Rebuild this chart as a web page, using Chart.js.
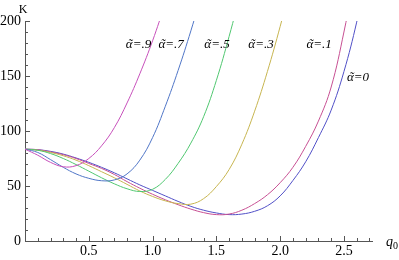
<!DOCTYPE html>
<html>
<head>
<meta charset="utf-8">
<script src="https://cdn.jsdelivr.net/npm/chart.js@4.4.1/dist/chart.umd.min.js"></script>
<style>
  html, body { margin: 0; padding: 0; background: #fff; }
  #wrap { width: 399px; height: 260px; }
</style>
</head>
<body>
<div id="wrap"><canvas id="myChart"></canvas></div>
<script>
// q0 grid shared by all curves
var qGrid = [0, 0.1, 0.2, 0.3, 0.4, 0.5, 0.6, 0.7, 0.8, 0.9, 1.0, 1.1, 1.2, 1.3,
             1.4, 1.5, 1.6, 1.7, 1.8, 1.9, 2.0, 2.1, 2.2, 2.3, 2.4, 2.5, 2.6, 2.7];

// K values, one array per alpha
var k09 = [83.5, 78, 71.5, 67.5, 68.5, 75, 86.5, 103, 125.5, 152, 182, 216];
var k07 = [83.5, 80.5, 74, 67, 61, 57, 54.8, 55.5, 61, 73.5, 94, 122.5, 155, 191, 230];
var k05 = [83.5, 82.5, 79.5, 75, 69.5, 63.5, 57.5, 52, 47.5, 45, 47, 56, 70.5, 89, 113, 146, 186, 230];
var k03 = [83.5, 82.5, 80.5, 77.5, 73.5, 68.5, 63, 57.5, 51.5, 45.5, 40.5, 36.5, 34, 33.5, 38.5, 49.5,
           65, 88, 118, 154, 195, 240];
var k01 = [83.5, 83, 81, 78.5, 75, 70.5, 66, 60.5, 54, 48, 42.5, 37.5, 33, 29, 25.8, 24, 24.5, 28,
           34, 42, 53, 67, 86, 109, 140, 190, 250];
var k00 = [83.5, 83, 81.5, 79, 75.5, 71.5, 67, 62, 56.5, 51, 46, 41, 36, 31.5, 28, 25.5, 24, 24.5,
           27, 32, 41, 55, 72, 94, 119, 154, 199, 254];

var yTicks = [0, 50, 100, 150, 200];
var xTicks = [0.5, 1.0, 1.5, 2.0, 2.5];

// curve labels: value part after "α̃", q0, K
var curveLabels = [
    ['=.9', 0.89, 179],
    ['=.7', 1.145, 179],
    ['=.5', 1.505, 179],
    ['=.3', 1.85, 179],
    ['=.1', 2.305, 179],
    ['=0', 2.61, 149]
];

var colors = ['rgb(199,80,187)', 'rgb(80,118,199)', 'rgb(80,199,112)',
              'rgb(199,181,80)', 'rgb(199,80,147)', 'rgb(81,80,199)'];
var series = [k09, k07, k05, k03, k01, k00];

function toPoints(arr) {
    return arr.map(function(v, i) { return {x: qGrid[i], y: v}; });
}

var serif = '"Liberation Serif"';

var decorPlugin = {
    id: 'decor',
    afterDraw: function(chart) {
        var ctx = chart.ctx;
        var xs = chart.scales.x, ys = chart.scales.y;
        var x0 = xs.getPixelForValue(0), y0 = ys.getPixelForValue(0);
        ctx.save();
        ctx.strokeStyle = '#555';
        ctx.lineWidth = 1;
        ctx.beginPath();
        // inward ticks on x
        for (var i = 1; i <= 27; i++) {
            var px = Math.round(xs.getPixelForValue(i / 10)) + 0.5;
            var len = (i % 5 === 0) ? 5 : 3;
            ctx.moveTo(px, y0);
            ctx.lineTo(px, y0 - len);
        }
        // inward ticks on y
        for (var j = 1; j <= 20; j++) {
            var py = Math.round(ys.getPixelForValue(j * 10)) + 0.5;
            var l2 = (j % 5 === 0) ? 5 : 3;
            ctx.moveTo(x0, py);
            ctx.lineTo(x0 + l2, py);
        }
        ctx.stroke();

        ctx.fillStyle = '#000';
        ctx.textBaseline = 'alphabetic';
        ctx.font = '12px ' + serif;
        ctx.textAlign = 'center';
        ctx.fillText('K', 23, 13);

        ctx.textAlign = 'left';
        ctx.font = 'italic 14px ' + serif;
        ctx.fillText('q', 386, 246);
        ctx.font = '10px ' + serif;
        ctx.fillText('0', 393, 249);

        // alpha-tilde labels
        ctx.font = 'italic 13px ' + serif;
        ctx.textAlign = 'left';
        curveLabels.forEach(function(lb) {
            var wa = ctx.measureText('α').width;
            var wr = ctx.measureText(lb[0]).width;
            var cx = xs.getPixelForValue(lb[1]);
            var base = ys.getPixelForValue(lb[2]) + 4;
            var sx = cx - (wa + wr) / 2;
            ctx.fillText('α', sx, base);
            ctx.textAlign = 'center';
            ctx.fillText('˜', sx + wa / 2 + 1, base);
            ctx.textAlign = 'left';
            ctx.fillText(lb[0], sx + wa, base);
        });
        ctx.restore();
    }
};

var ctx = document.getElementById('myChart');
var myChart = new Chart(ctx, {
    type: 'line',
    data: {
        datasets: series.map(function(s, i) {
            return {
                data: toPoints(s),
                borderColor: colors[i],
                borderWidth: 1,
                pointRadius: 0,
                fill: false,
                tension: 0.4
            };
        })
    },
    options: {
        responsive: true,
        maintainAspectRatio: false,
        animation: false,
        layout: { padding: { top: 21, right: 27, left: 0, bottom: 0 } },
        plugins: { legend: { display: false }, tooltip: { enabled: false } },
        scales: {
            x: {
                type: 'linear',
                min: 0,
                max: 2.72,
                afterFit: function(scale) { scale.height = 19; },
                grid: { display: false, drawTicks: false },
                border: { display: true, color: '#555', width: 1 },
                afterBuildTicks: function(scale) {
                    scale.ticks = xTicks.map(function(v) { return {value: v}; });
                },
                ticks: {
                    padding: 2,
                    maxRotation: 0,
                    color: '#000',
                    font: { family: serif, size: 14 },
                    callback: function(v) { return v.toFixed(1); }
                }
            },
            y: {
                min: 0,
                max: 200,
                afterFit: function(scale) { scale.width = 25; },
                grid: { display: false, drawTicks: false },
                border: { display: true, color: '#555', width: 1 },
                afterBuildTicks: function(scale) {
                    scale.ticks = yTicks.map(function(v) { return {value: v}; });
                },
                ticks: {
                    padding: 4,
                    color: '#000',
                    font: { family: serif, size: 14 }
                }
            }
        }
    },
    plugins: [decorPlugin]
});
</script>
</body>
</html>
